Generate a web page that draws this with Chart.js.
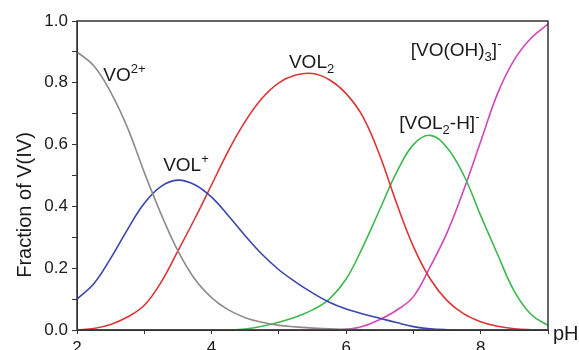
<!DOCTYPE html>
<html>
<head>
<meta charset="utf-8">
<script src="https://cdn.jsdelivr.net/npm/chart.js@4.4.0/dist/chart.umd.min.js"></script>
<style>
  html, body { margin: 0; padding: 0; background: #fff; }
</style>
</head>
<body>
<canvas id="speciation-chart" width="579" height="350"></canvas>
<script>
// pH grid and fraction of V(IV) per species
const phValues = [2, 2.25, 2.5, 2.75, 3, 3.25, 3.5, 3.75, 4, 4.25, 4.5, 4.75, 5, 5.25, 5.5,
  5.75, 6, 6.25, 6.5, 6.75, 7, 7.25, 7.5, 7.75, 8, 8.25, 8.5, 8.75, 9]
const vo2 = [0.90, 0.855, 0.77, 0.655, 0.51, 0.375, 0.256, 0.165, 0.105, 0.065, 0.04, 0.025,
  0.015, 0.01, 0.006, 0.004, 0.002, 0.001, 0, 0, 0, 0, 0, 0, 0, 0, 0, 0, 0]
const vol = [0.10, 0.15, 0.232, 0.325, 0.41, 0.465, 0.485, 0.47, 0.43, 0.37, 0.305, 0.245,
  0.195, 0.155, 0.12, 0.09, 0.068, 0.052, 0.038, 0.024, 0.011, 0.004, 0.001, 0, 0, 0, 0, 0, 0]
const vol2 = [0, 0.005, 0.018, 0.042, 0.08, 0.155, 0.256, 0.36, 0.47, 0.58, 0.675, 0.75,
  0.80, 0.825, 0.83, 0.81, 0.765, 0.69, 0.565, 0.41, 0.27, 0.165, 0.095, 0.052, 0.027, 0.012,
  0.004, 0.001, 0]
const vol2h = [0, 0, 0, 0, 0, 0, 0, 0, 0, 0, 0.003, 0.012, 0.025, 0.042, 0.065, 0.10, 0.165,
  0.27, 0.39, 0.51, 0.60, 0.63, 0.59, 0.50, 0.37, 0.245, 0.125, 0.05, 0.015]
const voOH3 = [0, 0, 0, 0, 0, 0, 0, 0, 0, 0, 0, 0, 0, 0, 0, 0, 0.002, 0.012, 0.034, 0.064,
  0.108, 0.205, 0.315, 0.455, 0.61, 0.765, 0.875, 0.945, 0.99]

const xTicks = [2, 4, 6, 8]
const yTicks = [0, 0.2, 0.4, 0.6, 0.8, 1.0]

// species labels: [pH, fraction, parts]  parts = [text, 'n' | 'sup' | 'sub']
const speciesLabels = [
  [2.39, 0.806, [['VO', 'n'], ['2+', 'sup']]],
  [3.28, 0.515, [['VOL', 'n'], ['+', 'sup']]],
  [5.15, 0.848, [['VOL', 'n'], ['2', 'sub']]],
  [6.79, 0.65, [['[VOL', 'n'], ['2', 'sub'], ['-H]', 'n'], ['-', 'sup']]],
  [6.96, 0.887, [['[VO(OH)', 'n'], ['3', 'sub'], [']', 'n'], ['-', 'sup']]]
]

const FONT = '"Liberation Sans", Arial, sans-serif'
const toPoints = ys => ys.map((y, i) => ({ x: phValues[i], y }))

const frame = {
  id: 'frame',
  afterDraw(chart) {
    const { ctx, chartArea: a } = chart
    ctx.save()
    ctx.strokeStyle = '#333'
    ctx.lineWidth = 1.5
    ctx.strokeRect(a.left, a.top, a.right - a.left, a.bottom - a.top)
    ctx.restore()
  }
}

const texts = {
  id: 'texts',
  afterDraw(chart) {
    const { ctx, chartArea: a } = chart
    const xs = chart.scales.x
    const ys = chart.scales.y
    ctx.save()
    ctx.fillStyle = '#1a1a1a'
    ctx.textBaseline = 'alphabetic'
    ctx.textAlign = 'left'
    speciesLabels.forEach(([ph, f, parts]) => {
      let x = xs.getPixelForValue(ph)
      const y = ys.getPixelForValue(f)
      parts.forEach(([t, kind]) => {
        let dy = 0
        if (kind === 'n') ctx.font = `19px ${FONT}`
        else ctx.font = `13px ${FONT}`
        if (kind === 'sup') dy = -8
        if (kind === 'sub') dy = 5
        ctx.fillText(t, x, y + dy)
        x += ctx.measureText(t).width
      })
    })
    // axis titles
    ctx.font = `20px ${FONT}`
    ctx.fillText('pH', a.right + 5, a.bottom + 10)
    ctx.translate(25, 205)
    ctx.rotate(-Math.PI / 2)
    ctx.textAlign = 'center'
    ctx.textBaseline = 'middle'
    ctx.font = `20px ${FONT}`
    ctx.fillText('Fraction of V(IV)', 0, 0)
    ctx.restore()
  }
}

const line = (data, color) => ({
  data: toPoints(data),
  borderColor: color,
  borderWidth: 1.6,
  pointRadius: 0,
  fill: false,
  tension: 0.4
})

new Chart(document.querySelector('#speciation-chart'), {
  type: 'line',
  data: {
    datasets: [
      line(vo2, '#8c8c8c'),
      line(vol, '#3a45b0'),
      line(vol2, '#dd3535'),
      line(vol2h, '#3cb94e'),
      line(voOH3, '#d246b8')
    ]
  },
  options: {
    responsive: false,
    animation: false,
    layout: { padding: { top: 21, right: 31, left: 0, bottom: 0 } },
    plugins: { legend: { display: false }, tooltip: { enabled: false } },
    scales: {
      x: {
        type: 'linear',
        min: 2,
        max: 9,
        afterFit: s => { s.height = 20 },
        grid: { drawOnChartArea: false, tickLength: 4, color: '#333' },
        border: { color: '#333' },
        ticks: {
          stepSize: 1,
          autoSkip: false,
          maxRotation: 0,
          padding: 4,
          color: '#1a1a1a',
          font: { size: 17, family: FONT },
          callback: v => xTicks.includes(v) ? String(v) : ''
        }
      },
      y: {
        min: 0,
        max: 1,
        afterFit: s => { s.width = 77 },
        grid: { drawOnChartArea: false, tickLength: 5, color: '#333' },
        border: { color: '#333' },
        ticks: {
          stepSize: 0.1,
          autoSkip: false,
          padding: 4,
          color: '#1a1a1a',
          font: { size: 17, family: FONT },
          callback: v => yTicks.some(t => Math.abs(t - v) < 1e-6) ? v.toFixed(1) : ''
        }
      }
    }
  },
  plugins: [frame, texts]
})
</script>
</body>
</html>
